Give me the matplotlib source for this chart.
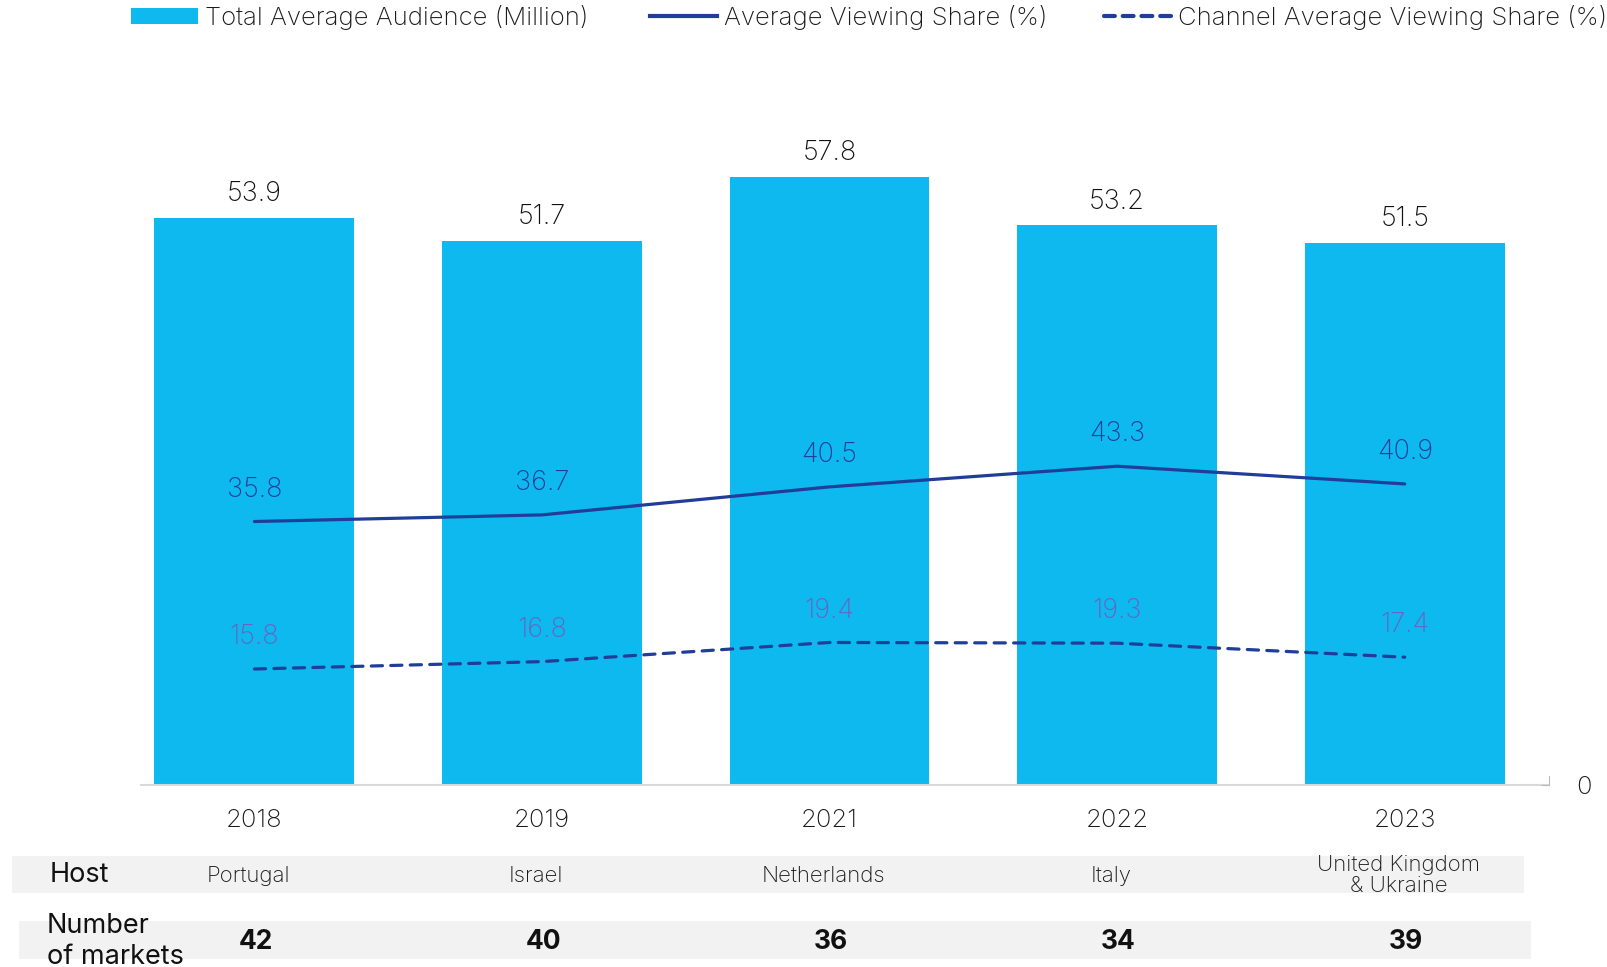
import numpy as np
import matplotlib.pyplot as plt
from matplotlib.lines import Line2D
from matplotlib.patches import Patch, Rectangle
from matplotlib.transforms import blended_transform_factory

plt.rcParams['font.family'] = ['Inter', 'DejaVu Sans']
plt.rcParams['font.weight'] = 'light'

# data
years = ["2018", "2019", "2021", "2022", "2023"]
audience = [53.9, 51.7, 57.8, 53.2, 51.5]
viewing_share = [35.8, 36.7, 40.5, 43.3, 40.9]
channel_share = [15.8, 16.8, 19.4, 19.3, 17.4]
hosts = ["Portugal", "Israel", "Netherlands", "Italy", "United Kingdom\n& Ukraine"]
markets = [42, 40, 36, 34, 39]

bar_col = "#0DB9EE"
line_col = "#1F3D99"
chan_lbl_col = "#6A63C2"

fig = plt.figure(figsize=(16.08, 9.67), dpi=100)
ax = fig.add_axes([0.0874, 0.1877, 0.8756, 0.7625])
ax2 = ax.twinx()

x = np.arange(len(years))
ax.bar(x, audience, width=0.695, color=bar_col, zorder=2)
for xi, v in zip(x, audience):
    ax.annotate(f"{v}", (xi, v), xytext=(0, 17), textcoords="offset points",
                ha="center", va="center", fontsize=19.5, color="#111111")

ax2.plot(x, viewing_share, color=line_col, lw=2.3, solid_capstyle="round")
ax2.plot(x, channel_share, color=line_col, lw=2.3, dashes=(3.5, 2.6), dash_capstyle="round")
for xi, v in zip(x, viewing_share):
    ax2.annotate(f"{v}", (xi, v), xytext=(0, 23), textcoords="offset points",
                 ha="center", va="center", fontsize=19.5, color=line_col)
for xi, v in zip(x, channel_share):
    ax2.annotate(f"{v}", (xi, v), xytext=(0, 23), textcoords="offset points",
                 ha="center", va="center", fontsize=19.5, color=chan_lbl_col)

ax.set_xlim(-0.396, 4.5)
ax.set_ylim(0, 70)
ax2.set_ylim(0, 100)

for s in ["top", "left", "right"]:
    ax.spines[s].set_visible(False)
ax.spines["bottom"].set_color("#D9D9D9")
ax.spines["bottom"].set_linewidth(1.5)
ax.set_yticks([])
ax.set_xticks(x)
ax.set_xticklabels(years, fontsize=18.5, color="#1A1A1A")
ax.tick_params(axis="x", length=0, pad=17)

for s in ["top", "left", "bottom"]:
    ax2.spines[s].set_visible(False)
ax2.spines["right"].set_bounds(0, 1.3)
ax2.spines["right"].set_color("#BBBBBB")
ax2.set_yticks([0])
ax2.set_yticklabels(["0"], fontsize=18.5, color="#1A1A1A")
ax2.tick_params(axis="y", length=6, direction="in", color="#BBBBBB", pad=20)

# table under the chart
tr = blended_transform_factory(ax.transData, fig.transFigure)
fig.patches.append(Rectangle((0.0077, 0.0765), 0.9403, 0.0383, transform=fig.transFigure,
                             facecolor="#F2F2F2", edgecolor="none", zorder=-1))
fig.patches.append(Rectangle((0.0121, 0.0083), 0.9399, 0.0393, transform=fig.transFigure,
                             facecolor="#F2F2F2", edgecolor="none", zorder=-1))
fig.text(0.031, 0.0953, "Host", fontsize=19.5, fontweight="normal", color="#111111",
         va="center", ha="left")
fig.text(0.029, 0.0265, "Number\nof markets", fontsize=19.5, fontweight="normal",
         color="#111111", va="center", ha="left", linespacing=1.25)
for xi, h in zip(x, hosts):
    ax.text(xi - 0.02, 0.0945, h, transform=tr, ha="center", va="center", fontsize=16,
            color="#1A1A1A", linespacing=1.1)
for xi, m in zip(x, markets):
    ax.text(xi + 0.005, 0.0255, str(m), transform=tr, ha="center", va="center", fontsize=19,
            fontweight="bold", color="#111111")

# legend: one entry per legend so each sits where the reference has it
handles = [Patch(facecolor=bar_col, edgecolor="none"),
           Line2D([], [], color=line_col, lw=3),
           Line2D([], [], color=line_col, lw=3, dashes=(2.6, 1.9), dash_capstyle="round")]
labels = ["Total Average Audience (Million)", "Average Viewing Share (%)",
          "Channel Average Viewing Share (%)"]
leg_x = [0.0815, 0.4042, 0.6866]
for h, l, lx in zip(handles, labels, leg_x):
    fig.legend([h], [l], loc="center left", bbox_to_anchor=(lx, 0.982), frameon=False,
               fontsize=18.5, handlelength=2.6, handleheight=0.55, handletextpad=0.27,
               borderpad=0, borderaxespad=0, labelcolor="#1A1A1A")

fig.savefig("out.png", dpi=100)
